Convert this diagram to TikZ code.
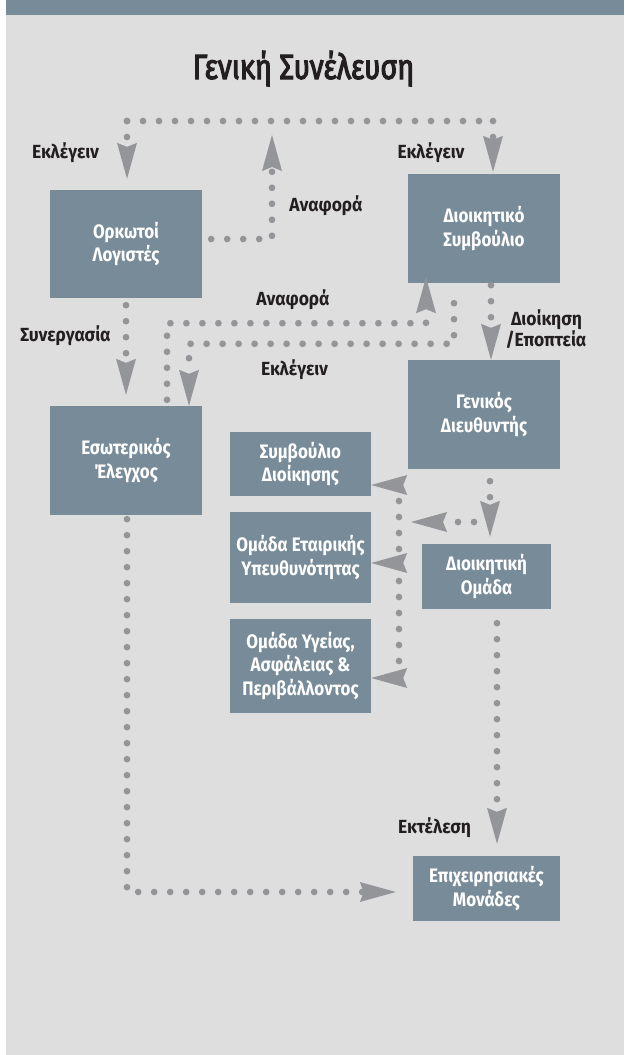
\documentclass[tikz,border=0pt]{standalone}
\usepackage{fontspec}
\setmainfont{Fira Sans}
\newfontfamily\condfont{Fira Sans}[FakeStretch=0.92]
\newfontfamily\boxfont{Fira Sans}[FakeStretch=0.87]
\newfontfamily\titlefont{Fira Sans}[FakeStretch=0.82,FakeBold=3]
\usetikzlibrary{arrows.meta}
\definecolor{bg}{HTML}{DEDEDE}
\definecolor{slate}{HTML}{778B99}
\definecolor{dotgray}{HTML}{939598}
\definecolor{ink}{HTML}{231F20}
\tikzset{
  box/.style={fill=slate, text=white, align=center, inner sep=0pt,
    font=\boxfont\bfseries\fontsize{19.5}{23.5}\selectfont},
  lbl/.style={text=ink, inner sep=0pt, anchor=base,
    font=\condfont\bfseries\fontsize{19}{21}\selectfont},
  dotline/.style={draw=dotgray, line width=6.7pt, line cap=round, dash pattern=on 0pt off 16pt},
  arr/.style={-{Stealth[length=36pt,width=20pt,inset=4pt,line width=0pt]}},
}
\begin{document}
\begin{tikzpicture}[x=1pt,y=-1pt]
\useasboundingbox (0,0) rectangle (624,1055);
\fill[white] (0,0) rectangle (624,1055);
\fill[bg] (6,15) rectangle (624,1055);
\fill[slate] (6,0) rectangle (624,15);

% title
\node[text=ink, inner sep=0pt, anchor=base, font=\titlefont\fontsize{35}{40}\selectfont] (title) at (303.5,79) {Γενική Συνέλευση};

% boxes
\node[box, minimum width=152pt, minimum height=108pt] (ork) at (126,244) {Ορκωτοί\\Λογιστές};
\node[box, minimum width=152pt, minimum height=109pt] (ds) at (484,228.5) {Διοικητικό\\Συμβούλιο};
\node[box, minimum width=152pt, minimum height=109pt] (ia) at (126,460.5) {Εσωτερικός\\Έλεγχος};
\node[box, minimum width=152pt, minimum height=109pt] (gd) at (484,414.5) {Γενικός\\Διευθυντής};
\node[box, minimum width=141pt, minimum height=64pt] (sd) at (300.5,464) {Συμβούλιο\\Διοίκησης};
\node[box, minimum width=141pt, minimum height=91pt] (csr) at (300.5,557.5) {Ομάδα Εταιρικής\\Υπευθυνότητας};
\node[box, minimum width=141pt, minimum height=94pt] (hse) at (300.5,666) {Ομάδα Υγείας,\\Ασφάλειας \&\\Περιβάλλοντος};
\node[box, minimum width=129pt, minimum height=65pt] (mt) at (486.5,576.5) {Διοικητική\\Ομάδα};
\node[box, minimum width=147pt, minimum height=65pt] (bu) at (486.5,888.5) {Επιχειρησιακές\\Μονάδες};

% labels
\node[lbl] (l1) at (65.5,158) {Εκλέγειν};
\node[lbl] (l2) at (431,158) {Εκλέγειν};
\node[lbl] (l3) at (326,211) {Αναφορά};
\node[lbl] (l4) at (293,305) {Αναφορά};
\node[lbl] (l5) at (294.5,375) {Εκλέγειν};
\node[lbl] (l6) at (65.5,341) {Συνεργασία};
\node[lbl] (l7) at (546.5,325) {Διοίκηση};
\node[lbl] (l8) at (546,346) {/Εποπτεία};
\node[lbl] (l9) at (434.5,833) {Εκτέλεση};

% coordinates
\coordinate (tl) at (127,121);
\coordinate (tr) at (493,121);
\coordinate (gatip) at (272,135);
\coordinate (g1) at ([xshift=6pt,yshift=-12pt]gd.south);
\coordinate (br) at (490,522);
\coordinate (b1) at (399,485);
\coordinate (b2) at (399,563);
\coordinate (b3) at (399,678);

% connectors
\draw[dotline] (tl) -- (tr);
\draw[dotline,arr] (tl) -- ([yshift=11pt]tl |- ork.north);
\draw[dotline,arr] (tr) -- ([yshift=2pt]tr |- ds.north);
\draw[dotline,arr] ([xshift=9pt,yshift=5pt]ork.east) -| (gatip);
\draw[dotline,arr] ([yshift=-7pt]ork.south) -- ([yshift=11pt]ia.north);
\draw[dotline,arr] ([xshift=41pt,yshift=6pt]ia.north) |- ([xshift=-58pt,yshift=-40pt]ds.south) -- ([xshift=-58pt,yshift=6pt]ds.south);
\draw[dotline,arr] ([xshift=-30pt,yshift=-20pt]ds.south) |- ([xshift=63pt,yshift=62pt]ia.north) -- ([xshift=63pt]ia.north);
\draw[dotline,arr] ([xshift=7pt,yshift=-2pt]ds.south) -- ([xshift=7pt]gd.north);
\draw[dotline,arr] (g1) -- ([yshift=7pt]g1 |- mt.north);
\draw[dotline,arr] (br) -- ([xshift=12pt]b1 |- br);
\draw[dotline] (b1) -- (b3);
\draw[dotline,arr] (b1) -- (b1 -| sd.east);
\draw[dotline,arr] (b2) -- (b2 -| csr.east);
\draw[dotline,arr] (b3) -- (b3 -| hse.east);
\draw[dotline,arr] ([xshift=10.5pt,yshift=-14pt]mt.south) -- ([xshift=10.5pt,yshift=12pt]bu.north);
\draw[dotline,arr] ([xshift=1pt,yshift=-4pt]ia.south) |- ([xshift=-17pt,yshift=-3.5pt]bu.west);
\end{tikzpicture}
\end{document}
